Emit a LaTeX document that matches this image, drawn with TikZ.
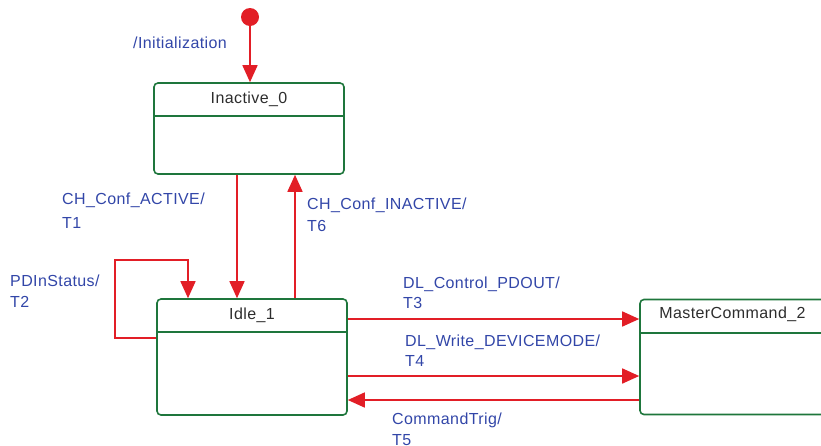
\documentclass[tikz,border=0pt]{standalone}
\usepackage{fontspec}
\setmainfont{Liberation Sans}
\newfontfamily\spacedfont[LetterSpace=2.5]{Liberation Sans}
\usetikzlibrary{arrows.meta,calc}
\definecolor{stategreen}{RGB}{30,118,60}
\definecolor{transred}{RGB}{226,30,38}
\definecolor{labelblue}{RGB}{50,70,168}
\definecolor{titlegray}{RGB}{45,45,45}
\begin{document}
\begin{tikzpicture}[x=1pt,y=-1pt,
    statebox/.style={draw=stategreen, line width=1.6pt, rounded corners=4pt, minimum width=190pt, inner sep=0pt},
    divider/.style={draw=stategreen, line width=1.6pt},
    title/.style={text=titlegray, font=\spacedfont\fontsize{16}{19}\selectfont, inner sep=0pt},
    trans/.style={draw=transred, line width=1.6pt, -{Triangle[length=17pt,width=15pt]}},
    lbl/.style={text=labelblue, font=\spacedfont\fontsize{16}{21}\selectfont, align=left, anchor=north west, inner sep=0pt}]
    \useasboundingbox (0,0) rectangle (821,445);

    % States
    \node[statebox, minimum height=91pt] (inactive) at (249,128.5) {};
    \node[statebox, minimum height=116pt] (idle) at (252,357) {};
    \node[statebox, minimum width=210pt, minimum height=115pt] (master) at (745,357) {};
    \foreach \s/\d in {inactive/34, idle/34, master/34}
        \draw[divider] ([yshift=-\d pt]\s.north west) -- ([yshift=-\d pt]\s.north east);
    \node[title] (inactivetitle) at ($(inactive.north)+(0,17)$) {Inactive\_0};
    \node[title] (idletitle) at ($(idle.north)+(0,17)$) {Idle\_1};
    \node[title, anchor=west] (mastertitle) at ($(master.north west)+(20,16)$) {MasterCommand\_2};

    % Initial state
    \node[circle, fill=transred, minimum size=18pt, inner sep=0pt] (init) at (250,17) {};
    \draw[trans] (init) -- (init |- inactive.north);

    % Transitions
    \coordinate (loop) at (115,260);
    \draw[trans] ([xshift=-12pt]inactive.south) -- ([xshift=-12pt]inactive.south |- idle.north);
    \draw[trans] ([xshift=43pt]idle.north) -- ([xshift=43pt]idle.north |- inactive.south);
    \draw[trans] ([yshift=19pt]idle.west) -| (loop) -| ([xshift=-64pt]idle.north);
    \draw[trans] ([yshift=38pt]idle.east) -- ([yshift=38pt]idle.east -| master.west);
    \draw[trans] ([yshift=-19pt]idle.east) -- ([yshift=-19pt]idle.east -| master.west);
    \draw[trans] ([yshift=-43pt]master.west) -- ([yshift=-43pt]master.west -| idle.east);

    % Transition labels
    \node[lbl] (tinit) at (133,37) {/Initialization};
    \node[lbl, font=\spacedfont\fontsize{16}{24}\selectfont] (t1) at (62,193) {CH\_Conf\_ACTIVE/\\T1};
    \node[lbl, font=\spacedfont\fontsize{16}{22}\selectfont] (t6) at (307,198) {CH\_Conf\_INACTIVE/\\T6};
    \node[lbl] (t2) at (10,275) {PDInStatus/\\T2};
    \node[lbl, font=\spacedfont\fontsize{16}{20}\selectfont] (t3) at (403,277) {DL\_Control\_PDOUT/\\T3};
    \node[lbl, font=\spacedfont\fontsize{16}{20}\selectfont] (t4) at (405,335) {DL\_Write\_DEVICEMODE/\\T4};
    \node[lbl] (t5) at (392,413) {CommandTrig/\\T5};
\end{tikzpicture}
\end{document}
